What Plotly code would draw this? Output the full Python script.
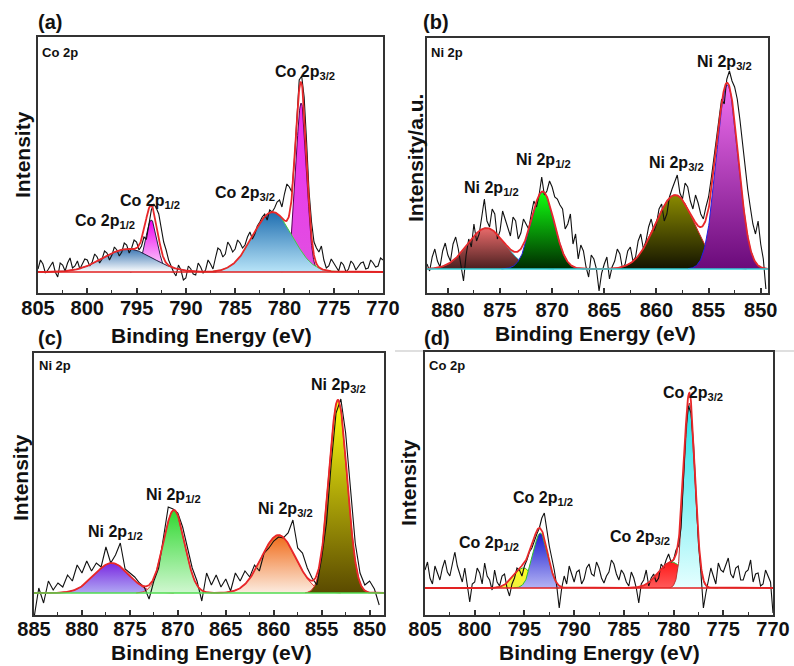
import numpy as np
import plotly.graph_objects as go

W, H = 794, 666
FONT = "Liberation Sans, Arial, sans-serif"

# ---------------- (a) Co 2p ----------------
a_xrange = [805.0, 770.0]
a_yrange = [-21, 235]
a_energy_start, a_energy_stop, a_step = 805.0, 770.0, 0.25
a_raw = [3, 12, 8, -1, 2, 6, 10, 0, -5, 9, 7, 1, 9, 14, 4, 6, 11, 3, 8, 13,
         12, 6, 10, 18, 15, 9, 13, 21, 19, 12, 17, 25, 22, 16, 20, 29, 27, 19, 24, 32,
         30, 22, 26, 35, 33, 48, 62, 68, 64, 58, 45, 30, 22, 12, 6, 0, -4, 7, 2, -8,
         -6, 6, 3, -2, -3, 9, 5, -1, 2, 12, 8, 3, 14, 24, 22, 15, 18, 30, 26, 20,
         23, 32, 29, 24, 27, 35, 40, 33, 38, 46, 50, 55, 58, 52, 62, 60, 64, 70, 72, 65,
         78, 88, 85, 80, 110, 150, 192, 196, 175, 130, 80, 50, 30, 24, 20, 26, 12, 4, 6, 13,
         9, 4, 1, 10, 7, 0, 3, 11, 8, 2, 5, 9, 10, 3, 4, 12, 9, 5, 6, 14, 12]
a_centers = [793.5, 795.9, 778.3, 781.2]
a_heights = [52, 23, 169, 60]
a_sigmas = [0.6, 2.5, 0.55, 2.0]
a_top = ["#f000f0", "#3f79b5", "#f030f0", "#1f6eb0"]
a_bottom = ["#fbe6fb", "#ffffff", "#e050e0", "#b8e4f8"]
a_edge = ["#222244", "#222244", "#550055", "#44cc44"]
a_labels = ["Co 2p<sub>1/2</sub>", "Co 2p<sub>1/2</sub>", "Co 2p<sub>3/2</sub>", "Co 2p<sub>3/2</sub>"]

# ---------------- (b) Ni 2p ----------------
b_xrange = [882.0, 849.3]
b_yrange = [-24, 231]
b_energy_start, b_energy_stop, b_step = 882.0, 849.5, 0.25
b_raw = [5, -2, 12, 20, 8, 2, 18, 26, 14, 8, 25, 32, 20, 4, -12, 14, 30, 22, 45, 28,
         35, 52, 70, 48, 42, 60, 55, 30, 38, 58, 50, 40, 33, 52, 48, 30, 36, 50, 45, 40,
         55, 68, 62, 74, 92, 74, 78, 88, 82, 72, 70, 64, 60, 40, 45, 55, 25, 35, 10, 24,
         18, 2, -8, 14, 10, 0, -22, -4, 5, 12, -10, 2, 8, 20, 15, 0, 5, 18, 22, 8,
         12, 28, 35, 20, 28, 42, 50, 38, 45, 60, 65, 48, 55, 72, 80, 88, 94, 76, 70, 86,
         82, 68, 60, 74, 66, 55, 50, 62, 72, 90, 110, 128, 150, 170, 165, 190, 198, 188, 182, 170,
         150, 125, 105, 80, 62, 45, 35, 48, 25, 10, -20]
b_centers = [876.3, 870.9, 858.2, 853.2]
b_heights = [41, 77, 74, 184]
b_sigmas = [1.8, 1.1, 1.9, 1.05]
b_top = ["#e86a6a", "#10ff10", "#8a8a00", "#f070f0"]
b_bottom = ["#4a2020", "#002a00", "#141400", "#6a0a7a"]
b_edge = ["#30c0d0", "#2020e0", "#d02020", "#2020e0"]
b_labels = ["Ni 2p<sub>1/2</sub>", "Ni 2p<sub>1/2</sub>", "Ni 2p<sub>3/2</sub>", "Ni 2p<sub>3/2</sub>"]

# ---------------- (c) Ni 2p ----------------
c_xrange = [885.0, 848.5]
c_yrange = [-22, 240]
c_energy_start, c_energy_stop, c_step = 885.0, 849.0, 0.5
c_raw = [-25, 5, -10, 12, 3, 10, 6, 18, 12, 28,
         20, 32, 22, 30, 26, 46, 30, 38, 50, 24,
         20, 16, 10, 6, -6, 12, 25, 55, 86, 84,
         80, 66, 45, 25, 12, -8, 20, 8, 18, 6,
         14, 2, 20, 12, 22, 16, 28, 22, 40, 45,
         52, 56, 55, 60, 73, 45, 40, 25, 15, 8,
         35, 70, 130, 180, 194, 160, 105, 50, 20, 8,
         12, 4, -12]
c_centers = [876.9, 870.4, 859.5, 853.3]
c_heights = [30, 83, 58, 193]
c_sigmas = [1.8, 1.1, 1.8, 0.95]
c_top = ["#7a28e0", "#30d830", "#f06a18", "#ffff10"]
c_bottom = ["#b0a8f4", "#d0f7d0", "#fcece0", "#5a4a00"]
c_edge = ["#e03030", "#e03030", "#e03030", "#e03030"]
c_labels = ["Ni 2p<sub>1/2</sub>", "Ni 2p<sub>1/2</sub>", "Ni 2p<sub>3/2</sub>", "Ni 2p<sub>3/2</sub>"]

# ---------------- (d) Co 2p ----------------
d_xrange = [805.0, 770.0]
d_yrange = [-27, 236]
d_energy_start, d_energy_stop, d_step = 805.0, 770.0, 0.25
d_raw = [18, 26, 10, 4, 22, 14, 8, 20, 28, 16, 12, 24, 36, 22, 14, 6, 20, 2, -14, 4,
         6, 20, 15, 4, 25, 12, 8, -2, 18, 6, 2, 12, 14, 0, -8, 4, 10, 20, 18, 12,
         22, 28, 36, 40, 48, 54, 60, 70, 75, 58, 42, 30, 18, 2, -20, 0, 12, 4, 22, 14,
         6, 16, 18, 4, 9, 20, 24, 14, 12, 26, 20, 10, 5, 12, 16, 28, 24, 14, 8, 18,
         14, 6, 2, 16, 10, 0, -15, 4, 8, 18, 2, 10, 14, 6, 10, 24, 20, 28, 34, 26,
         28, 38, 42, 60, 110, 160, 182, 175, 145, 95, 45, 15, -20, -5, 8, 20, 12, 4, 25, 18,
         16, 24, 30, 14, 10, 20, 22, 8, 8, 16, 18, 28, 6, 14, 15, 2, 4, 18, 12, 6, -25]
d_centers = [795.1, 793.4, 780.2, 778.4]
d_heights = [20, 55, 26, 185]
d_sigmas = [1.0, 0.75, 1.3, 0.55]
d_top = ["#ffff20", "#1a1ad0", "#ff1a1a", "#20e0e8"]
d_bottom = ["#f0f040", "#b4b4f4", "#ff5a5a", "#e6ffff"]
d_edge = ["#30c030", "#30c030", "#30c030", "#c03030"]
d_labels = ["Co 2p<sub>1/2</sub>", "Co 2p<sub>1/2</sub>", "Co 2p<sub>3/2</sub>", "Co 2p<sub>3/2</sub>"]

# ---------------- layout (pixel positions) ----------------
def px(x):
    return x / W


def py(y):
    return 1 - y / H


panels = [
    dict(s="", xr=a_xrange, yr=a_yrange, e=(a_energy_start, a_energy_stop, a_step), raw=a_raw,
         c=a_centers, h=a_heights, sg=a_sigmas, top=a_top, bot=a_bottom, edge=a_edge,
         base="#e02020", frame=(38, 383, 37, 293), tick0=770, standoff=-4,
         ytitle="Intensity", ytitle_pos=(22, 155), xtitle_pos=(211, 335),
         tag="(a)", tag_pos=(50, 22), corner="Co 2p", corner_pos=(41, 52),
         labels=a_labels, label_pos=[(150, 202), (105, 222), (305, 72), (245, 193)]),
    dict(s="2", xr=b_xrange, yr=b_yrange, e=(b_energy_start, b_energy_stop, b_step), raw=b_raw,
         c=b_centers, h=b_heights, sg=b_sigmas, top=b_top, bot=b_bottom, edge=b_edge,
         base="#30d0d8", frame=(427, 768, 38, 293), tick0=850, standoff=-2,
         ytitle="Intensity/a.u.", ytitle_pos=(415, 158), xtitle_pos=(595, 333),
         tag="(b)", tag_pos=(436, 22), corner="Ni 2p", corner_pos=(430, 52),
         labels=b_labels, label_pos=[(491, 188), (543, 160), (676, 163), (724, 62)]),
    dict(s="3", xr=c_xrange, yr=c_yrange, e=(c_energy_start, c_energy_stop, c_step), raw=c_raw,
         c=c_centers, h=c_heights, sg=c_sigmas, top=c_top, bot=c_bottom, edge=c_edge,
         base="#50dd50", frame=(34, 384, 353, 615), tick0=850, standoff=-5,
         ytitle="Intensity", ytitle_pos=(20, 478), xtitle_pos=(211, 652),
         tag="(c)", tag_pos=(50, 338), corner="Ni 2p", corner_pos=(38, 365),
         labels=c_labels, label_pos=[(115, 532), (173, 495), (285, 510), (338, 385)]),
    dict(s="4", xr=d_xrange, yr=d_yrange, e=(d_energy_start, d_energy_stop, d_step), raw=d_raw,
         c=d_centers, h=d_heights, sg=d_sigmas, top=d_top, bot=d_bottom, edge=d_edge,
         base="#e02020", frame=(425, 773, 352, 615), tick0=770, standoff=-5,
         ytitle="Intensity", ytitle_pos=(408, 483), xtitle_pos=(599, 652),
         tag="(d)", tag_pos=(437, 338), corner="Co 2p", corner_pos=(428, 365),
         labels=d_labels, label_pos=[(489, 543), (543, 498), (640, 537), (693, 393)]),
]

fig = go.Figure()
annotations = []
layout_axes = {}


def note(text, x, y, size, xanchor="center", angle=0):
    annotations.append(dict(text=text, x=px(x), y=py(y), xref="paper", yref="paper",
                            showarrow=False, xanchor=xanchor, yanchor="middle",
                            textangle=angle, borderpad=0,
                            font=dict(family=FONT, size=size, color="#111111")))


for p in panels:
    s = p["s"]
    xa, ya = "x" + s, "y" + s
    lo, hi = min(p["xr"]), max(p["xr"])

    # fitted component peaks (Gaussian components from fit parameters)
    for c, h, sg, top, bot, edge in zip(p["c"], p["h"], p["sg"], p["top"], p["bot"], p["edge"]):
        xs = np.linspace(max(lo, c - 3.6 * sg), min(hi, c + 3.6 * sg), 160)
        ys = h * np.exp(-((xs - c) ** 2) / (2 * sg ** 2))
        fig.add_trace(go.Scatter(
            x=xs, y=ys, mode="lines", xaxis=xa, yaxis=ya,
            line=dict(color=edge, width=1),
            fill="tozeroy",
            fillgradient=dict(type="vertical", colorscale=[[0, bot], [1, top]]),
            hoverinfo="skip"))

    # raw spectrum
    e0, e1, st = p["e"]
    ex = np.arange(e0, e1 - st / 2, -st)
    fig.add_trace(go.Scatter(x=ex, y=p["raw"], mode="lines", xaxis=xa, yaxis=ya,
                             line=dict(color="#111111", width=1.1)))

    # envelope
    xf = np.linspace(lo, hi, 900)
    env = np.zeros_like(xf)
    for c, h, sg in zip(p["c"], p["h"], p["sg"]):
        env += h * np.exp(-((xf - c) ** 2) / (2 * sg ** 2))
    fig.add_trace(go.Scatter(x=xf, y=env, mode="lines", xaxis=xa, yaxis=ya,
                             line=dict(color="#e8282a", width=1.8)))

    # baseline
    fig.add_trace(go.Scatter(x=[lo, hi], y=[0, 0], mode="lines", xaxis=xa, yaxis=ya,
                             line=dict(color=p["base"], width=1.6)))

    l, r, t, b = p["frame"]
    layout_axes["xaxis" + s] = dict(
        domain=[px(l), px(r)], range=p["xr"], anchor=ya, automargin=False,
        showline=True, mirror=True, linecolor="#333333", linewidth=2,
        ticks="inside", ticklen=5, tickwidth=1.5, tickcolor="#333333",
        tickmode="linear", tick0=p["tick0"], dtick=5,
        ticklabelstandoff=p["standoff"],
        minor=dict(ticks="inside", ticklen=3, tickwidth=1.2, tickcolor="#333333", dtick=2.5),
        tickfont=dict(family=FONT, size=20, color="#111111", weight="bold"),
        showgrid=False, zeroline=False)
    layout_axes["yaxis" + s] = dict(
        domain=[py(b), py(t)], range=p["yr"], anchor=xa, automargin=False,
        showline=True, mirror=True, linecolor="#333333", linewidth=2,
        ticks="", showticklabels=False, showgrid=False, zeroline=False)

    # texts
    note("<b>Binding Energy (eV)</b>", p["xtitle_pos"][0], p["xtitle_pos"][1], 21)
    note("<b>%s</b>" % p["ytitle"], p["ytitle_pos"][0], p["ytitle_pos"][1], 21, angle=-90)
    note("<b>%s</b>" % p["tag"], p["tag_pos"][0], p["tag_pos"][1], 20)
    note("<b>%s</b>" % p["corner"], p["corner_pos"][0], p["corner_pos"][1], 13, xanchor="left")
    for txt, (lx, ly) in zip(p["labels"], p["label_pos"]):
        note("<b>%s</b>" % txt, lx, ly, 16)

fig.update_layout(
    width=W, height=H, margin=dict(l=0, r=0, t=0, b=0, autoexpand=False),
    paper_bgcolor="white", plot_bgcolor="white", showlegend=False,
    annotations=annotations,
    shapes=[dict(type="line", xref="paper", yref="paper", x0=px(395), x1=1, y0=py(351), y1=py(351),
                 line=dict(color="#d4d4d4", width=1.5), layer="below")],
    **layout_axes)

fig.write_html("out.html")
